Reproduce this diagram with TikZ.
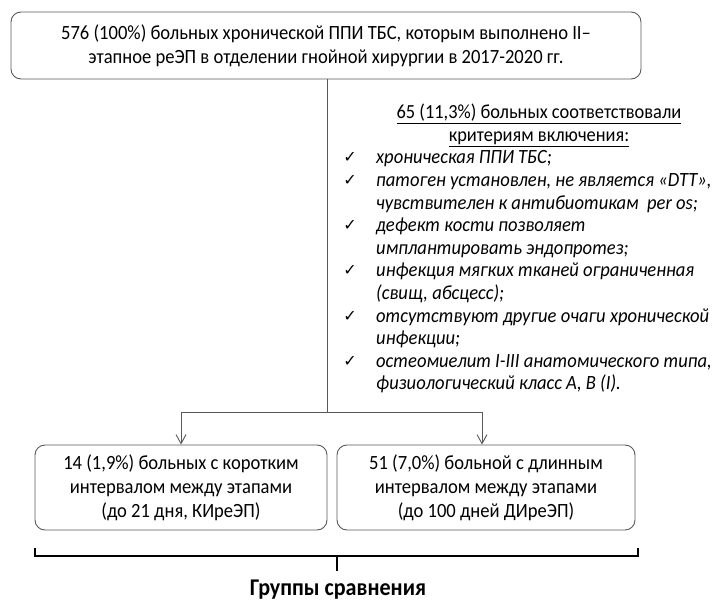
\documentclass[tikz,border=0pt]{standalone}
\usepackage{fontspec}
\setmainfont{Carlito}[FakeStretch=0.92]
\newfontfamily\djv{DejaVu Sans}
\usetikzlibrary{arrows.meta}
\begin{document}
\begin{tikzpicture}[x=1pt,y=-1pt,
 box/.style={draw=black!65, line width=0.9pt, rounded corners=10pt, inner sep=0pt, align=center, font=\fontsize{20.2}{24}\selectfont},
 conn/.style={draw=black!65, line width=0.9pt},
 arr/.style={conn, -{Straight Barb[length=9pt,width=10pt]}},
 crit/.style={anchor=base west, inner sep=0pt, font=\fontsize{20.2}{22}\selectfont\itshape},
 chk/.style={anchor=base, inner sep=0pt, font=\djv\fontsize{16}{18}\selectfont},
 hdr/.style={anchor=base, inner sep=0pt, font=\fontsize{20}{22}\selectfont},
 brace/.style={draw=black, line width=1.8pt},
 ]
\useasboundingbox (0,0) rectangle (716,604);
\node[box, minimum width=630pt, minimum height=67pt] (top) at (326,45.5)
 {576 (100\%) больных хронической ППИ ТБС, которым выполнено II–\\этапное реЭП в отделении гнойной хирургии в 2017-2020 гг.};
\node[box, minimum width=292pt, minimum height=85pt] (left) at (181,487.5)
 {14 (1,9\%) больных с коротким\\интервалом между этапами\\(до 21 дня, КИреЭП)};
\node[box, minimum width=298pt, minimum height=85pt] (right) at (486,487.5)
 {51 (7,0\%) больной с длинным\\интервалом между этапами\\(до 100 дней ДИреЭП)};
\coordinate (split) at (327,412);
\coordinate (la) at (181,412);
\coordinate (ra) at (482,412);
\draw[conn] (top.south -| split) -- (split);
\draw[conn] (la) -- (ra);
\draw[arr] (la) -- (la |- left.north);
\draw[arr] (ra) -- (ra |- right.north);
\node[hdr] (h1) at (539,119) {\underline{65 (11,3\%) больных соответствовали}};
\node[hdr] (h2) at (539,142) {\underline{критериям включения:}};
\foreach \i/\t/\c in {0/{хроническая ППИ ТБС;}/1,
 1/{патоген установлен, не является «DTT»,}/1,
 2/{чувствителен к антибиотикам \ per os;}/0,
 3/{дефект кости позволяет}/1,
 4/{имплантировать эндопротез;}/0,
 5/{инфекция мягких тканей ограниченная}/1,
 6/{(свищ, абсцесс);}/0,
 7/{отсутствуют другие очаги хронической}/1,
 8/{инфекции;}/0,
 9/{остеомиелит I-III анатомического типа,}/1,
 10/{физиологический класс А, В (I).}/0}{
 \node[crit] (c\i) at (376,{164+22.6*\i}) {\t};
 \ifnum\c=1 \node[chk] (k\i) at (350,{163+22.6*\i}) {✓};\fi
}
\coordinate (bl) at (35,548);
\coordinate (br) at (638,548);
\coordinate (bm) at (337,556);
\coordinate (bt) at (337,571);
\draw[brace] (bl) -- (bl |- bm) -- (br |- bm) -- (br);
\draw[brace] (bm) -- (bt);
\node[font=\bfseries\fontsize{24}{26}\selectfont, inner sep=0pt] (grp) at (338,590) {Группы сравнения};
\end{tikzpicture}
\end{document}
